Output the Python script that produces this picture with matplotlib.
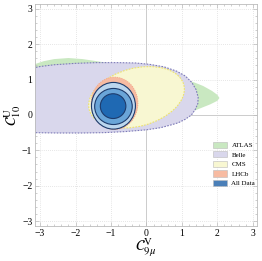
import matplotlib.pyplot as plt
from matplotlib.patches import Polygon, Ellipse, Patch
from matplotlib.ticker import MultipleLocator

plt.rcParams['mathtext.fontset'] = 'stix'
plt.rcParams['font.family'] = 'Liberation Serif'

# boundary (C9, C10)
atlas_x = [-3.2, -2.9, -2.6, -2.2, -1.8, -1.4, -1.0, -0.5, 0.0, 0.5, 1.0, 1.35, 1.6, 1.85, 2.0, 2.06, 2.0, 1.8, 1.5, 1.2, 0.8, 0.2, -0.6, -1.5, -2.4, -3.2]
atlas_y = [1.42, 1.52, 1.58, 1.61, 1.58, 1.52, 1.46, 1.38, 1.28, 1.15, 1.02, 0.92, 0.82, 0.68, 0.57, 0.48, 0.4, 0.3, 0.18, 0.06, -0.1, -0.25, -0.38, -0.44, -0.46, -0.46]

belle_x = [-3.2, -3.0, -2.6, -2.0, -1.4, -0.8, -0.3, 0.1, 0.5, 0.85, 1.1, 1.28, 1.4, 1.46, 1.45, 1.38, 1.27, 1.1, 0.9, 0.7, 0.4, 0.0, -0.6, -1.2, -1.8, -2.5, -3.2]
belle_y = [1.33, 1.37, 1.42, 1.46, 1.48, 1.48, 1.47, 1.43, 1.36, 1.24, 1.1, 0.92, 0.72, 0.5, 0.32, 0.16, 0.0, -0.12, -0.22, -0.28, -0.36, -0.42, -0.47, -0.5, -0.51, -0.51, -0.5]

# ellipses: centre x, centre y, width, height, angle
cms = (-0.28, 0.5, 2.76, 1.64, 15)
lhcb = (-0.9, 0.33, 1.32, 1.48, 0)
all_data = [(-0.93, 0.26, 1.24, 1.32, 0),
            (-0.93, 0.24, 1.06, 1.02, 0),
            (-0.94, 0.25, 0.72, 0.70, 0)]

labels = ['ATLAS', 'Belle', 'CMS', 'LHCb', 'All Data']
c_atlas = '#c9e8c1'
c_belle = '#d9d7ec'
c_cms = '#f8f7d2'
c_lhcb = '#f7bba2'
c_blue = ['#bcd6ee', '#6aa5d8', '#1f69b3']

fig = plt.figure(figsize=(2.62, 2.61), dpi=100)
ax = fig.add_axes([0.134, 0.134, 0.847, 0.851])

for v in [-3, -2, -1, 1, 2, 3]:
    ax.axvline(v, color='#dddddd', lw=0.6, ls=(0, (1, 1.5)), zorder=0)
    ax.axhline(v, color='#dddddd', lw=0.6, ls=(0, (1, 1.5)), zorder=0)
ax.axvline(0, color='#cccccc', lw=0.7, zorder=0.5)
ax.axhline(0, color='#cccccc', lw=0.7, zorder=0.5)

ax.add_patch(Polygon(list(zip(atlas_x, atlas_y)), closed=True, fc=c_atlas, ec='none', zorder=1))
ax.add_patch(Polygon(list(zip(belle_x, belle_y)), closed=True, fc=c_belle, ec='#7d7ab8',
                     lw=0.8, ls=(0, (1.5, 1.2)), zorder=2))
x, y, w, h, a = cms
ax.add_patch(Ellipse((x, y), w, h, angle=a, fc=c_cms, ec='#eee36a', lw=0.8, ls=(0, (1.5, 1.2)), zorder=3))
x, y, w, h, a = lhcb
ax.add_patch(Ellipse((x, y), w, h, angle=a, fc=c_lhcb, ec='#f5a88a', lw=0.6, ls=(0, (1.5, 1.2)), zorder=4))
for (x, y, w, h, a), c in zip(all_data, c_blue):
    ax.add_patch(Ellipse((x, y), w, h, angle=a, fc=c, ec='#1d3b6c', lw=0.8, zorder=5))

ax.set_xlim(-3.14, 3.12)
ax.set_ylim(-3.14, 3.14)
ax.xaxis.set_minor_locator(MultipleLocator(0.2))
ax.yaxis.set_minor_locator(MultipleLocator(0.2))
ax.tick_params(which='both', direction='in', top=True, right=True, color='#bbbbbb',
               labelsize=7, pad=2, width=0.5)
ax.tick_params(which='major', length=3)
ax.tick_params(which='minor', length=1.5)
ticks = [-3, -2, -1, 0, 1, 2, 3]
ticklabels = ['\u22123', '\u22122', '\u22121', '0', '1', '2', '3']
ax.set_xticks(ticks)
ax.set_xticklabels(ticklabels)
ax.set_yticks(ticks)
ax.set_yticklabels(ticklabels)
for s in ax.spines.values():
    s.set_color('#bbbbbb')
    s.set_linewidth(0.6)

ax.set_xlabel(r'$\mathcal{C}_{9\mu}^{\rm V}$', fontsize=11, labelpad=-1)
ax.set_ylabel(r'$\mathcal{C}_{10}^{\rm U}$', fontsize=11, labelpad=-1)

handles = [Patch(fc=c, ec='#bbbbbb', lw=0.4) for c in [c_atlas, c_belle, c_cms, c_lhcb, '#4a7fb8']]
ax.legend(handles, labels, loc='lower right', bbox_to_anchor=(1.02, 0.15), frameon=False,
          fontsize=5, handlelength=2.0, handleheight=1.0, handletextpad=0.6, labelspacing=0.45)

fig.savefig('out.png', dpi=100)
